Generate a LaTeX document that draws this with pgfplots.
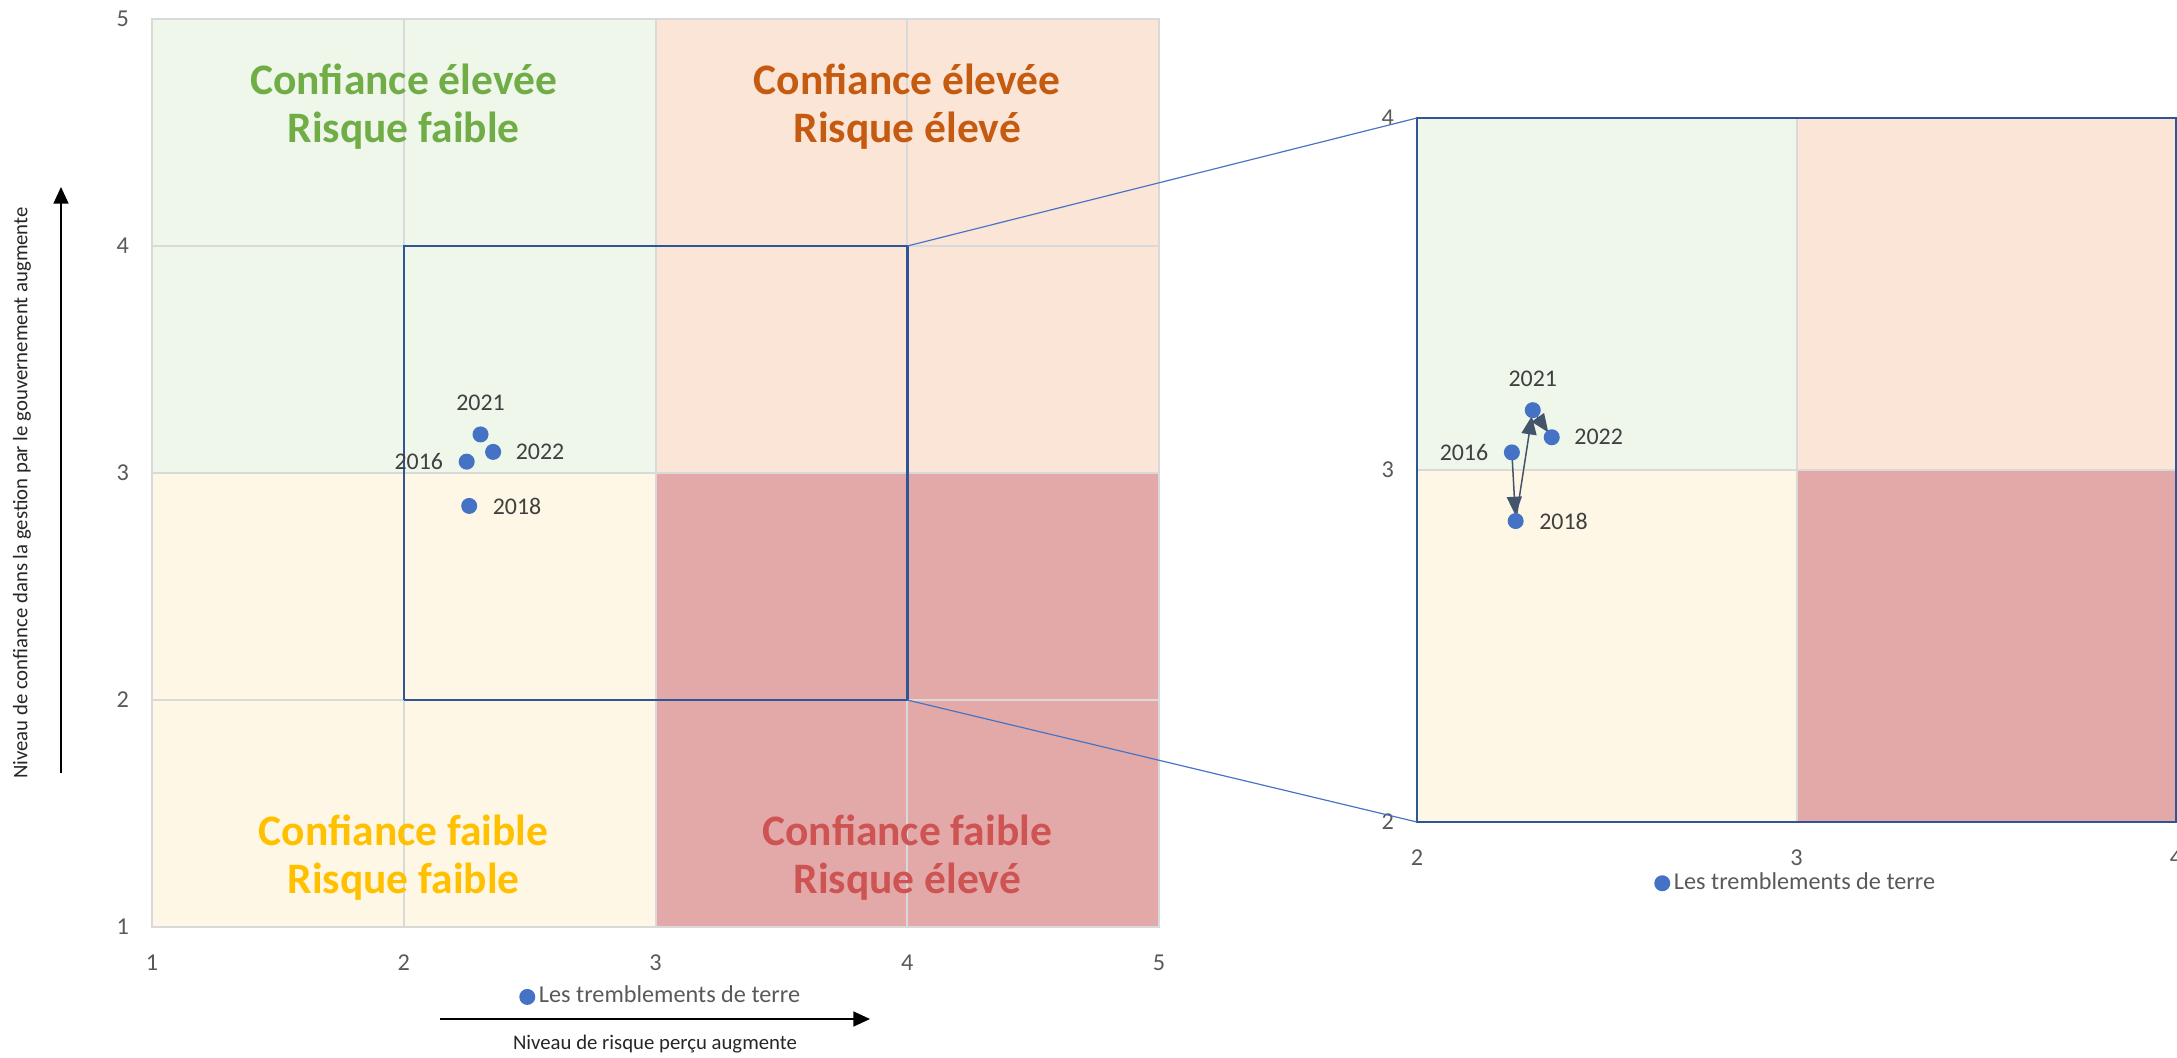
\documentclass[border=0pt]{standalone}
\usepackage{pgfplots}
\pgfplotsset{compat=1.18}
\usepackage{fontspec}
\setmainfont{Carlito}
\usetikzlibrary{arrows.meta}

\definecolor{bggreen}{HTML}{EFF6EA}
\definecolor{bgorange}{HTML}{FBE5D6}
\definecolor{bgyellow}{HTML}{FFF7E5}
\definecolor{bgred}{HTML}{E3A9A9}
\definecolor{gridgray}{HTML}{D9D9D9}
\definecolor{navy}{HTML}{2F5597}
\definecolor{ptblue}{HTML}{4472C4}
\definecolor{arrgray}{HTML}{44546A}
\definecolor{tickgray}{HTML}{595959}
\definecolor{lblgray}{HTML}{404040}
\definecolor{txtgreen}{HTML}{70AD47}
\definecolor{txtorange}{HTML}{C55A11}
\definecolor{txtgold}{HTML}{FFC000}
\definecolor{txtred}{HTML}{CE5353}

% points (risque, confiance)
\pgfplotstableread{
x     y      an
2.25  3.05   2016
2.26  2.855  2018
2.305 3.17   2021
2.355 3.093  2022
}\seisme

\pgfplotsset{
  matrice/.style={
    set layers,
    scale only axis,
    grid=major,
    major grid style={draw=gridgray, line width=0.6bp},
    major tick length=0pt,
    tick label style={font=\fontsize{7.3}{8}\selectfont, text=tickgray},
    xticklabel style={yshift=-4.8bp},
    yticklabel style={xshift=-3.4bp},
    /pgf/number format/assume math mode=true,
    legend style={draw=none, fill=none, anchor=center,
      font=\fontsize{7.3}{8}\selectfont, text=tickgray,
      nodes={inner sep=1.1bp}},
    legend image code/.code={\fill[ptblue] (0bp,0bp) circle (2.2bp);},
  },
  quad/.style={fill=#1, draw=none, on layer=axis background, forget plot},
}
\tikzset{
  yrlbl/.style={font=\fontsize{7.2}{8}\selectfont, text=lblgray, inner sep=0pt},
  fleche/.style={draw=arrgray, line width=0.45bp,
    -{Triangle[length=5.5bp, width=4.5bp]}, shorten >=1.8bp},
  quadlbl/.style={font=\bfseries\fontsize{13.1}{14.6}\selectfont, text=#1, align=center},
}

\begin{document}
\begin{tikzpicture}

% --- matrice complete ---
\begin{axis}[matrice,
  at={(45.6bp,-278.1bp)}, anchor=south west,
  width=302.1bp, height=272.4bp,
  xmin=1, xmax=5, ymin=1, ymax=5,
  xtick={1,2,3,4,5}, ytick={1,2,3,4,5},
  axis line style={draw=gridgray, line width=0.6bp},
  legend style={at={(0.506,-0.077)}},
]
\addplot[quad=bggreen]  coordinates {(1,3) (3,3) (3,5) (1,5)};
\addplot[quad=bgorange] coordinates {(3,3) (5,3) (5,5) (3,5)};
\addplot[quad=bgyellow] coordinates {(1,1) (3,1) (3,3) (1,3)};
\addplot[quad=bgred]    coordinates {(3,1) (5,1) (5,3) (3,3)};

\node[quadlbl=txtgreen]  at (axis cs:2,4.615) {Confiance élevée\\Risque faible};
\node[quadlbl=txtorange] at (axis cs:4,4.615) {Confiance élevée\\Risque élevé};
\node[quadlbl=txtgold]   at (axis cs:2,1.305) {Confiance faible\\Risque faible};
\node[quadlbl=txtred]    at (axis cs:4,1.305) {Confiance faible\\Risque élevé};

% cadre du zoom
\addplot[draw=navy, line width=0.75bp, line join=miter, forget plot]
  coordinates {(2,2) (4,2) (4,4) (2,4) (2,2)};

\addplot[only marks, mark=*, mark size=2.2bp, draw=ptblue, fill=ptblue]
  table[x=x, y=y] {\seisme};
\addlegendentry{Les tremblements de terre}

\node[yrlbl, anchor=east]  at (axis cs:2.25,3.05)   [xshift=-6.9bp] {2016};
\node[yrlbl, anchor=west]  at (axis cs:2.26,2.855)  [xshift=6.9bp]  {2018};
\node[yrlbl, anchor=south] at (axis cs:2.305,3.17)  [yshift=7bp]    {2021};
\node[yrlbl, anchor=west]  at (axis cs:2.355,3.093) [xshift=6.6bp]  {2022};

\coordinate (zA) at (axis cs:4,4);
\coordinate (zB) at (axis cs:4,2);
\end{axis}

% --- agrandissement ---
\begin{axis}[matrice,
  at={(425.1bp,-246.6bp)}, anchor=south west,
  width=227.7bp, height=211.2bp,
  xmin=2, xmax=4, ymin=2, ymax=4,
  xtick={2,3,4}, ytick={2,3,4},
  axis line style={draw=navy, line width=0.75bp},
  legend style={at={(0.5,-0.087)}},
]
\addplot[quad=bggreen]  coordinates {(2,3) (3,3) (3,4) (2,4)};
\addplot[quad=bgorange] coordinates {(3,3) (4,3) (4,4) (3,4)};
\addplot[quad=bgyellow] coordinates {(2,2) (3,2) (3,3) (2,3)};
\addplot[quad=bgred]    coordinates {(3,2) (4,2) (4,3) (3,3)};

\addplot[only marks, mark=*, mark size=2.2bp, draw=ptblue, fill=ptblue]
  table[x=x, y=y] {\seisme};
\addlegendentry{Les tremblements de terre}

\addplot[fleche, forget plot] coordinates {(2.25,3.05) (2.26,2.855)};
\addplot[fleche, forget plot] coordinates {(2.26,2.855) (2.305,3.17)};
\addplot[fleche, forget plot] coordinates {(2.305,3.17) (2.355,3.093)};

\node[yrlbl, anchor=east]  at (axis cs:2.25,3.05)   [xshift=-6.9bp] {2016};
\node[yrlbl, anchor=west]  at (axis cs:2.26,2.855)  [xshift=6.9bp]  {2018};
\node[yrlbl, anchor=south] at (axis cs:2.305,3.17)  [yshift=7bp]    {2021};
\node[yrlbl, anchor=west]  at (axis cs:2.355,3.093) [xshift=6.6bp]  {2022};

\coordinate (rA) at (rel axis cs:0,1);
\coordinate (rB) at (rel axis cs:0,0);
\end{axis}

% traits de liaison
\draw[ptblue, line width=0.35bp] (zA) -- (rA);
\draw[ptblue, line width=0.35bp] (zB) -- (rB);

% titres d'axes avec fleches
\node[rotate=90, font=\fontsize{6.25}{7}\selectfont, text=black!85]
  at (6.6bp,-147.9bp) {Niveau de confiance dans la gestion par le gouvernement augmente};
\draw[line width=0.5bp, -{Triangle[length=5bp, width=4.5bp]}]
  (18.3bp,-231.9bp) -- (18.3bp,-56.1bp);
\draw[line width=0.5bp, -{Triangle[length=5bp, width=4.5bp]}]
  (132bp,-305.7bp) -- (261bp,-305.7bp);
\node[font=\fontsize{6.25}{7}\selectfont, text=black!85]
  at (196.5bp,-313.2bp) {Niveau de risque perçu augmente};

\pgfresetboundingbox
\useasboundingbox (0bp,0bp) rectangle (653.1bp,-317.4bp);
\end{tikzpicture}
\end{document}
